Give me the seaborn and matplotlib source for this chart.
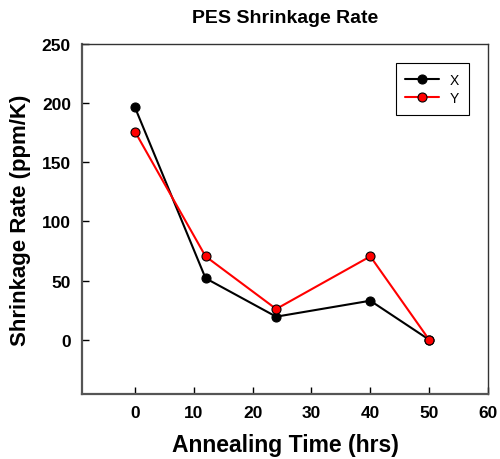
import matplotlib
matplotlib.use("Agg")
import matplotlib.pyplot as plt
import seaborn as sns
import pandas as pd

# Annealing time (hrs) and shrinkage rates (ppm/K)
time_hrs = [0, 12, 24, 40, 50]
rate_x = [196.5, 52, 19.5, 33, 0]
rate_y = [176, 70.5, 26, 70.5, 0]

df = pd.DataFrame({
    "time": time_hrs * 2,
    "rate": rate_x + rate_y,
    "series": ["X"] * len(time_hrs) + ["Y"] * len(time_hrs),
})

sns.set_style("white")
plt.rcParams["font.family"] = ["Liberation Sans", "DejaVu Sans"]
plt.rcParams["text.color"] = "black"
plt.rcParams["axes.labelcolor"] = "black"
plt.rcParams["xtick.color"] = "black"
plt.rcParams["ytick.color"] = "black"
plt.rcParams["xtick.direction"] = "in"
plt.rcParams["ytick.direction"] = "in"

fig = plt.figure(figsize=(5, 4.6), dpi=100)
ax = fig.add_axes([0.164, 0.141, 0.812, 0.761])

sns.lineplot(data=df, x="time", y="rate", hue="series",
             palette={"X": "black", "Y": "red"}, marker="o", markersize=6.5,
             markeredgecolor="black", markeredgewidth=0.8, linewidth=1.5,
             ax=ax)

ax.set_xlim(-9, 60)
ax.set_ylim(-46, 250)
ax.set_xticks([0, 10, 20, 30, 40, 50, 60])
ax.set_yticks([0, 50, 100, 150, 200, 250])
ax.tick_params(bottom=True, left=True, direction="in", length=5, width=1,
               labelsize=12.5, pad=8)
for lbl in ax.get_xticklabels() + ax.get_yticklabels():
    lbl.set_fontweight("bold")

for side in ["left", "bottom"]:
    ax.spines[side].set_linewidth(1.6)
    ax.spines[side].set_color("#555555")
for side in ["top", "right"]:
    ax.spines[side].set_linewidth(1.0)
    ax.spines[side].set_color("#333333")

ax.set_title("PES Shrinkage Rate", fontsize=14, fontweight="bold", pad=16)
ax.set_xlabel("Annealing Time (hrs)", fontsize=16.5, fontweight="bold", labelpad=9)
ax.set_ylabel("Shrinkage Rate (ppm/K)", fontsize=16, fontweight="bold", labelpad=8)

leg = ax.legend(title=None, loc="upper right", bbox_to_anchor=(0.97, 0.965),
                fancybox=False, framealpha=1, edgecolor="black",
                fontsize=10, handlelength=2.4, borderpad=0.7, labelspacing=0.3)
leg.get_frame().set_linewidth(0.8)

fig.savefig("out.png", dpi=100)
